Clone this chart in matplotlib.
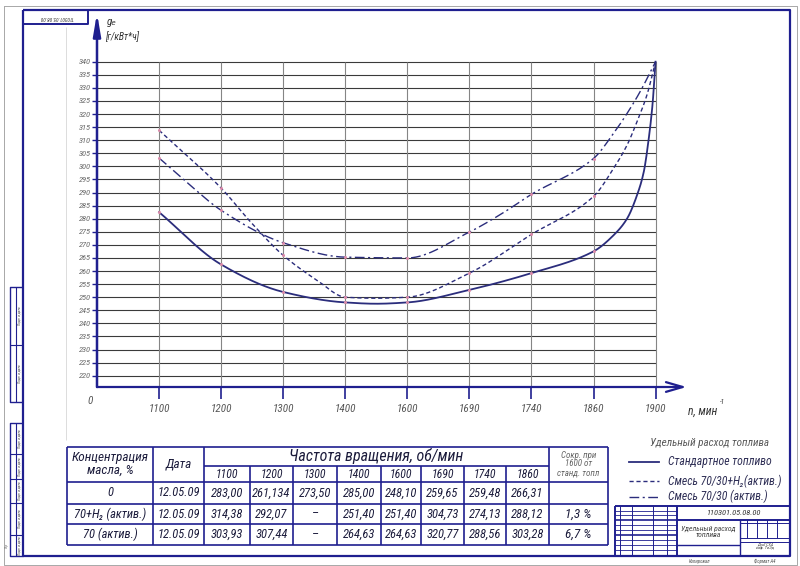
import numpy as np
import matplotlib
matplotlib.use('Agg')
import matplotlib.pyplot as plt
from matplotlib import font_manager

# ---- data ----
rpm = ['1100', '1200', '1300', '1400', '1600', '1690', '1740', '1860', '1900']
y_ticks = list(range(220, 341, 5))

# curve points (x = tick position: 0 -> 1100 ... 8 -> 1900)
std_x = [0, 1, 2, 3, 3.5, 4, 5, 6, 7, 7.32, 7.54, 7.70, 7.81, 7.89, 7.95, 8]
std_y = [282.5, 262.5, 252.0, 248.0, 247.5, 248.0, 252.8, 259.2, 267.5, 273.6, 280.0, 288.9, 297.9, 310.6, 323.4, 340.0]

h2_x = [0, 1, 1.5, 2, 2.55, 3, 3.5, 4, 5, 6, 7, 7.32, 7.54, 7.70, 7.86, 8]
h2_y = [313.8, 291.7, 278.1, 266.0, 256.4, 250.0, 249.6, 250.0, 259.2, 274.0, 288.5, 299.1, 308.1, 317.0, 327.2, 340.0]

act_x = [0, 0.5, 1, 2, 3, 4, 5, 5.52, 6, 7, 7.32, 7.54, 7.75, 8]
act_y = [303.2, 292.8, 283.2, 270.8, 265.3, 265.0, 274.9, 281.9, 289.3, 303.0, 312.5, 320.2, 328.5, 340.0]

legend_title = 'Удельный расход топлива'
legend_labels = ['Стандартное топливо', 'Смесь 70/30+H₂(актив.)', 'Смесь 70/30 (актив.)']

tbl_rpm = ['1100', '1200', '1300', '1400', '1600', '1690', '1740', '1860']
conc = ['0', '70+H₂ (актив.)', '70 (актив.)']
dates = ['12.05.09', '12.05.09', '12.05.09']
tbl_vals = [
    ['283,00', '261,134', '273,50', '285,00', '248,10', '259,65', '259,48', '266,31'],
    ['314,38', '292,07', '–', '251,40', '251,40', '304,73', '274,13', '288,12'],
    ['303,93', '307,44', '–', '264,63', '264,63', '320,77', '288,56', '303,28'],
]
saving = ['', '1,3 %', '6,7 %']

# ---- style ----
BLUE = '#1f1f8f'
CURVE = '#2b2d7c'
names = {f.name for f in font_manager.fontManager.ttflist}
FONT = 'DejaVu Sans'
for cand in ['Liberation Sans Narrow', 'Roboto Condensed', 'DejaVu Sans']:
    if cand in names:
        FONT = cand
        break
FONTS = [FONT, 'DejaVu Sans']
plt.rcParams['font.family'] = FONTS
plt.rcParams['font.style'] = 'italic'

W, H = 800, 566


def pchip(x, y, xs):
    x = np.asarray(x, float)
    y = np.asarray(y, float)
    h = np.diff(x)
    d = np.diff(y) / h
    m = np.zeros_like(y)
    for k in range(1, len(x) - 1):
        if d[k - 1] * d[k] > 0:
            w1 = 2 * h[k] + h[k - 1]
            w2 = h[k] + 2 * h[k - 1]
            m[k] = (w1 + w2) / (w1 / d[k - 1] + w2 / d[k])
    m[0], m[-1] = d[0], d[-1]
    i = np.clip(np.searchsorted(x, xs) - 1, 0, len(x) - 2)
    t = (xs - x[i]) / h[i]
    h00 = 2 * t**3 - 3 * t**2 + 1
    h10 = t**3 - 2 * t**2 + t
    h01 = -2 * t**3 + 3 * t**2
    h11 = t**3 - t**2
    return h00 * y[i] + h10 * h[i] * m[i] + h01 * y[i + 1] + h11 * h[i] * m[i + 1]


fig = plt.figure(figsize=(W / 100, H / 100), dpi=100)

# sheet (frame, table, stamp) in pixel coordinates
sheet = fig.add_axes([0, 0, 1, 1])
sheet.set_xlim(0, W)
sheet.set_ylim(H, 0)
sheet.axis('off')


def ln(xs, ys, lw=1.2, c=BLUE, **kw):
    sheet.plot(xs, ys, color=c, lw=lw, solid_capstyle='butt', **kw)


def txt(x, y, s, size, c='#1c1c3c', ha='center', **kw):
    sheet.text(x, y, s, fontsize=size, color=c, ha=ha, va='center',
               family=FONTS, style='italic', **kw)


# outer thin border and main frame
ln([3.5, 796.5, 796.5, 3.5, 3.5], [5.5, 5.5, 564.5, 564.5, 5.5], lw=0.6, c='#9a9a9a')
ln([22.5, 790, 790, 22.5, 22.5], [10, 10, 556, 556, 10], lw=1.6)
ln([66, 66], [27, 440], lw=0.5, c='#cfcfcf')

# top-left box
ln([22.5, 88, 88, 22.5], [10, 10, 24, 24], lw=1.4)
txt(56, 17, '110301.05.08.00', 3.8, c='#333', rotation=180)

# left margin boxes
for y0, y1, cuts in [(287, 402, [345]), (423, 556, [454, 479, 503, 535])]:
    ln([22.5, 10, 10, 22.5], [y0, y0, y1, y1], lw=1.0)
    ln([16, 16], [y0, y1], lw=0.8)
    for c in cuts:
        ln([10, 22.5], [c, c], lw=0.8)
    edges = [y0] + cuts + [y1]
    for a, b in zip(edges[:-1], edges[1:]):
        txt(19.5, (a + b) / 2, 'Подп. и дата', 2.6, c='#444', rotation=90)
txt(7, 545, 'Стр', 2.6, c='#666', rotation=90)

# ---- chart ----
ymin = 340 - (387 - 61.7) / 13.083 * 5
ymax = 340 + (61.7 - 13) / 13.083 * 5
ax = fig.add_axes([97 / W, (H - 387) / H, 589.6 / W, 374 / H])
ax.set_facecolor('none')
ax.set_xlim(-1, 8.5)
ax.set_ylim(ymin, ymax)
for s in ax.spines.values():
    s.set_visible(False)

ax.hlines(y_ticks, -1, 8, colors='#3a3a3a', lw=0.8, zorder=1)
ax.vlines(range(len(rpm)), ymin, 340, colors='#858585', lw=0.8, zorder=1)

xs = np.linspace(0, 8, 600)
ax.plot(xs, pchip(std_x, std_y, xs), color=CURVE, lw=1.3, zorder=3)
ax.plot(xs, pchip(h2_x, h2_y, xs), color=CURVE, lw=1.0, ls=(0, (3, 2)), zorder=3)
ax.plot(xs, pchip(act_x, act_y, xs), color=CURVE, lw=1.0, ls=(0, (7, 2.5, 1.5, 2.5)), zorder=3)
pts = np.arange(8)
for cx, cy in [(std_x, std_y), (h2_x, h2_y), (act_x, act_y)]:
    ax.plot(pts, pchip(cx, cy, pts.astype(float)), 'o', ms=2.2, color='#d98aa8',
            mec='none', zorder=4)

ax.annotate('', xy=(8.5, ymin), xytext=(-1, ymin), annotation_clip=False,
            arrowprops=dict(arrowstyle='->,head_length=1.2,head_width=0.35',
                            color=BLUE, lw=1.6, shrinkA=0, shrinkB=0, mutation_scale=10))
ax.annotate('', xy=(-1, ymax), xytext=(-1, ymin), annotation_clip=False,
            arrowprops=dict(arrowstyle='-|>,head_length=1.3,head_width=0.22',
                            color=BLUE, lw=1.8, shrinkA=0, shrinkB=0, mutation_scale=10))

ax.set_xticks(range(len(rpm)))
ax.set_xticklabels(rpm)
ax.set_yticks(y_ticks)
ax.set_yticklabels([str(v) for v in y_ticks])
ax.tick_params(axis='x', direction='out', length=8.6, width=1.2, color=BLUE,
               labelsize=8, labelcolor='#555555', pad=4)
ax.tick_params(axis='y', direction='out', length=3.6, width=1.0, color=BLUE,
               labelsize=6, labelcolor='#666666', pad=1)

txt(90, 401, '0', 8, c='#555')
txt(688, 411, 'n, мин', 8.5, c='#333', ha='left')
txt(720, 402, '-1', 5, c='#333', ha='left')
txt(107, 22, 'gₑ', 8, c='#333', ha='left')
txt(105, 37, '[г/кВт*ч]', 7, c='#333', ha='left')

# ---- legend ----
txt(650, 443, legend_title, 8, c='#5a5a5a', ha='left')
for y, ls, lw, lab in [(461.7, '-', 1.3, legend_labels[0]),
                       (481, (0, (3, 2)), 1.0, legend_labels[1]),
                       (496.7, (0, (7, 2.5, 1.5, 2.5)), 1.0, legend_labels[2])]:
    sheet.plot([629, 659], [y, y], color=CURVE, lw=lw, ls=ls)
    txt(668, y, lab, 8.5, c='#2e2e55', ha='left')

# ---- table ----
cols = [67, 153, 204, 250, 293, 337, 381, 421, 464, 506, 549, 608]
rows = [447, 466, 482, 504, 524, 545]
for r in [rows[0], rows[2], rows[3], rows[4], rows[5]]:
    ln([cols[0], cols[-1]], [r, r])
ln([cols[2], cols[10]], [rows[1], rows[1]])
for c in [cols[0], cols[1], cols[2], cols[10], cols[11]]:
    ln([c, c], [rows[0], rows[-1]])
for c in cols[3:10]:
    ln([c, c], [rows[1], rows[-1]])

txt((cols[0] + cols[1]) / 2, 464, 'Концентрация\nмасла, %', 9.5, linespacing=1.0)
txt((cols[1] + cols[2]) / 2, 464, 'Дата', 9.5)
txt((cols[2] + cols[10]) / 2, 456, 'Частота вращения, об/мин', 11.5)
for i, lab in enumerate(tbl_rpm):
    txt((cols[2 + i] + cols[3 + i]) / 2, 474, lab, 8.5)
txt((cols[10] + cols[11]) / 2, 464, 'Сокр. при\n1600 от\nстанд. топл', 6.5, c='#666',
    linespacing=0.95)
for r, (cn, dt, vals, sv) in enumerate(zip(conc, dates, tbl_vals, saving)):
    yc = (rows[2 + r] + rows[3 + r]) / 2
    txt((cols[0] + cols[1]) / 2, yc, cn, 9)
    txt((cols[1] + cols[2]) / 2, yc, dt, 9)
    for i, v in enumerate(vals):
        txt((cols[2 + i] + cols[3 + i]) / 2, yc, v, 9)
    txt((cols[10] + cols[11]) / 2, yc, sv, 9.5)

# ---- stamp ----
ln([615, 790], [506, 506], lw=1.4)
ln([615, 615], [506, 556], lw=1.4)
ln([676.7, 676.7], [506, 556], lw=1.4)
ln([676.7, 790], [520, 520], lw=1.4)
ln([676.7, 740], [545, 545], lw=1.0)
ln([740, 740], [520, 556], lw=1.0)
for y in [523, 538, 541.7]:
    ln([740, 790], [y, y], lw=0.7)
for x in [746.7, 756.7, 766.7, 776.7]:
    ln([x, x], [520, 538], lw=0.7)
for x in [620, 631.7, 653.3, 666.7]:
    ln([x, x], [506, 556], lw=0.7)
for y in [511, 515, 520, 525, 530, 535, 540, 545, 550]:
    ln([615, 676.7], [y, y], lw=1.2 if y in (520, 535) else 0.6)
txt(733, 513, '110301.05.08.00', 6, c='#333')
txt(708, 532, 'Удельный расход\nтоплива', 5.5, c='#444', linespacing=1.0)
txt(765, 546, 'ДонГСХА\nкаф. ТиЭд', 3.2, c='#444', linespacing=1.0)
txt(700, 561, 'Копировал', 3.5, c='#555')
txt(765, 561, 'Формат А4', 3.5, c='#555')

fig.savefig('out.png', dpi=100)
